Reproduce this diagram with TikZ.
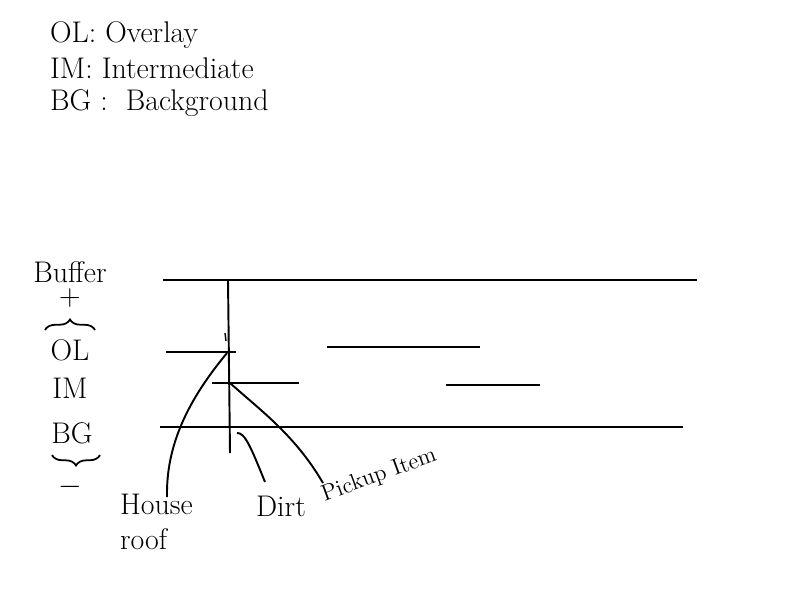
\documentclass[tikz,border=0pt]{standalone}
\usetikzlibrary{decorations.pathreplacing}
\newcommand{\layer}[3]{
	\draw [layer](#1,#3) -- (#2,#3);
	}
\begin{document}
\begin{tikzpicture}[
      x=0.02cm, y=-0.02cm, %pixel grid, y downwards
      layer/.style={line width=1.1pt},
      pointer/.style={line width=1.1pt},
      label/.style = {font=\fontsize{17}{20}\selectfont, inner sep=1pt},
      small/.style = {font=\fontsize{13}{15}\selectfont, inner sep=0pt},
      curly/.style={line width=1pt, decorate, decoration={brace, amplitude=6pt}}
    ]
    \useasboundingbox (0,0) rectangle (800,600);
    %legend
    \node[label, anchor=west] (legOL) at (48,35) {OL: Overlay};
    \node[label, anchor=west] (legIM) at (48,68) {IM: Intermediate};
    \node[label, anchor=west] (legBG) at (48,103) {BG :\ \ Background};
    %stack on the left
    \node[label] (buffer) at (70,272) {Buffer};
    \node[label] (plus) at (70,298) {+};
    \draw[curly] (45,330) -- (95,330);
    \node[label] (ol) at (70,350) {OL};
    \node[label] (im) at (70,388) {IM};
    \node[label] (bg) at (72,433) {BG};
    \draw[curly] (100,455) -- (52,455);
    \node[label] (minus) at (70,487) {$-$};
    %layers
    \layer{163}{697}{280};
    \layer{166}{236}{352};
    \layer{327}{480}{347};
    \layer{212}{299}{383};
    \layer{446}{540}{385};
    \layer{160}{683}{427};
    \draw [layer](228,280) -- (230,453);
    \draw [line width=0.8pt](225,333) -- (226,341);
    \coordinate (olJoin) at (227,353);
    \coordinate (imJoin) at (230,383);
    \coordinate (bgJoin) at (237,433);
    %labels below
    \node[label, anchor=north west, align=left] (roofLbl) at (118,492) {House\\roof};
    \coordinate (roofEnd) at (167,497);
    \node[label, anchor=north west] (dirtLbl) at (254,494) {Dirt};
    \coordinate (dirtEnd) at (265,482);
    \node[small, anchor=south west, rotate=20] (pickupLbl) at (326,506) {Pickup Item};
    \coordinate (pickupEnd) at (323,483);
    \draw[pointer] (roofEnd) .. controls (166,445) and (188,400) .. (olJoin);
    \draw[pointer] (bgJoin) .. controls (245,432) and (252,450) .. (dirtEnd);
    \draw[pointer] (imJoin) .. controls (260,410) and (295,435) .. (pickupEnd);
\end{tikzpicture}
\end{document}
